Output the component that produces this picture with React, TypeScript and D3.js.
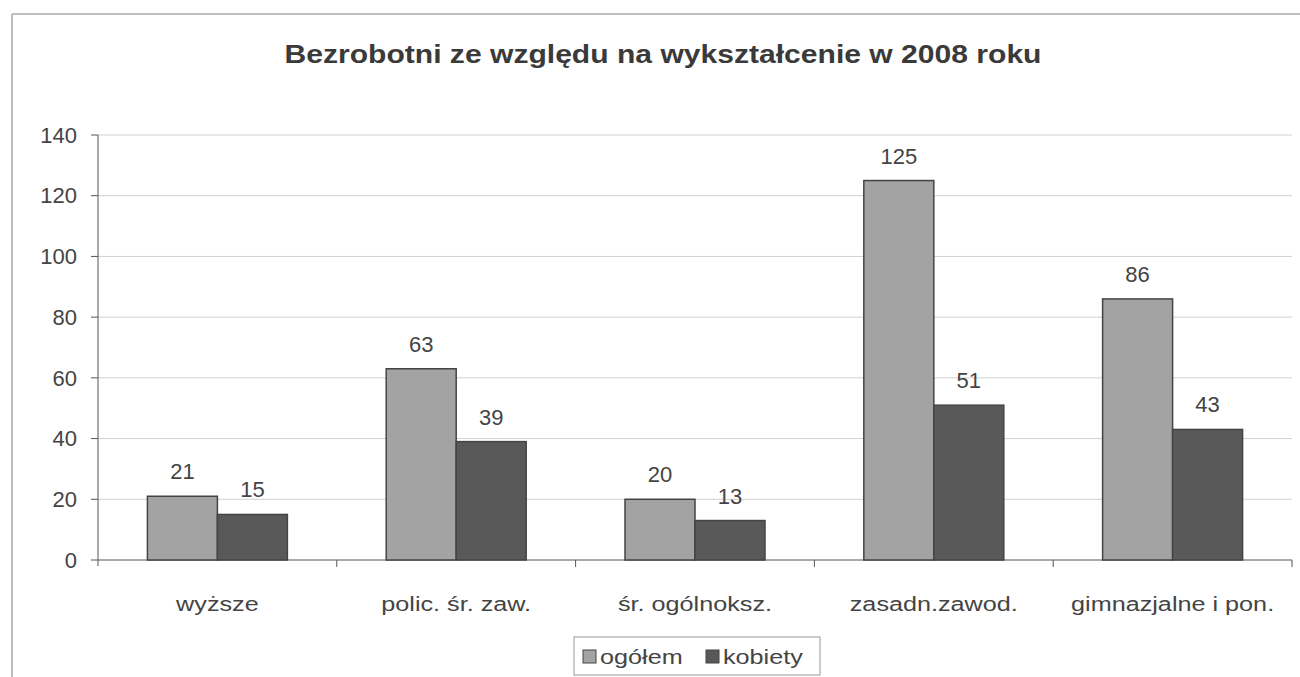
import React from 'react';
import * as d3 from 'd3';

const categories = ['wyższe', 'polic. śr. zaw.', 'śr. ogólnoksz.', 'zasadn.zawod.', 'gimnazjalne i pon.'];
const seriesNames = ['ogółem', 'kobiety'];
const ogolem = [21, 63, 20, 125, 86];
const kobiety = [15, 39, 13, 51, 43];
const yTicks = [0, 20, 40, 60, 80, 100, 120, 140];
const colors = ['#a3a3a3', '#595959'];

const W = 1300;
const H = 677;
const left = 98;
const right = 1292;
const top = 135;
const bottom = 560;
const font = 'Liberation Sans, Arial, sans-serif';
// the scanned labels are a bit wider than the font
const stretch = 1.2;

export default function App() {
    const x = d3.scaleBand<string>().domain(categories).range([left, right]).paddingInner(0).paddingOuter(0);
    const x1 = d3.scaleBand<string>().domain(seriesNames).range([0, x.bandwidth()]).paddingInner(0).paddingOuter(0.706);
    const y = d3.scaleLinear().domain([0, 140]).range([bottom, top]);
    const series = [ogolem, kobiety];

    return (
        <svg width={W} height={H} style={{ position: 'absolute', left: 0, top: 0, background: '#fff' }}>
            {/* frame */}
            <line x1={12} y1={14} x2={1300} y2={14} stroke="#bdbdbd" strokeWidth={2} />
            <line x1={12} y1={14} x2={12} y2={H} stroke="#bdbdbd" strokeWidth={2} />

            <text x={663} y={63} textAnchor="middle" fontFamily={font} fontSize={26} fontWeight="bold" fill="#3a3a3a"
                textLength={757} lengthAdjust="spacingAndGlyphs">
                Bezrobotni ze względu na wykształcenie w 2008 roku
            </text>

            {/* grid */}
            {yTicks.filter((t) => t > 0).map((t) => (
                <line key={t} x1={left} x2={right} y1={y(t)} y2={y(t)} stroke="#d0d0d0" strokeWidth={1} />
            ))}
            {yTicks.map((t) => (
                <g key={'yt' + t}>
                    <line x1={left - 7} x2={left} y1={y(t)} y2={y(t)} stroke="#555" />
                    <text x={left - 21} y={y(t)} dy="0.35em" textAnchor="end" fontFamily={font} fontSize={22} fill="#444">
                        {t}
                    </text>
                </g>
            ))}
            <line x1={left} x2={left} y1={top} y2={bottom + 6} stroke="#555" />
            <line x1={left} x2={right} y1={bottom} y2={bottom} stroke="#555" />
            {categories.map((c) => (
                <line key={'xt' + c} x1={(x(c) ?? 0) + x.bandwidth()} x2={(x(c) ?? 0) + x.bandwidth()} y1={bottom} y2={bottom + 7} stroke="#555" />
            ))}

            {/* bars */}
            {categories.map((c, i) => (
                <g key={c} transform={`translate(${x(c)},0)`}>
                    {seriesNames.map((s, j) => {
                        const v = series[j][i];
                        const bx = x1(s) ?? 0;
                        return (
                            <g key={s}>
                                <rect x={bx} y={y(v)} width={x1.bandwidth()} height={bottom - y(v)} fill={colors[j]} stroke="#444" strokeWidth={1.5} />
                                <text x={bx + x1.bandwidth() / 2} y={y(v) - 17} textAnchor="middle" fontFamily={font} fontSize={22} fill="#444">
                                    {v}
                                </text>
                            </g>
                        );
                    })}
                    <text transform={`translate(${x.bandwidth() / 2},611) scale(${stretch},1)`} textAnchor="middle" fontFamily={font} fontSize={21} fill="#444">
                        {c}
                    </text>
                </g>
            ))}

            {/* legend */}
            <rect x={574} y={637} width={246} height={38} fill="#fff" stroke="#999" />
            {seriesNames.map((s, j) => {
                const lx = j === 0 ? 583 : 706;
                return (
                    <g key={'lg' + s}>
                        <rect x={lx} y={650} width={13} height={13} fill={colors[j]} stroke="#444" />
                        <text transform={`translate(${lx + 17},664) scale(${stretch},1)`} fontFamily={font} fontSize={21} fill="#444">
                            {s}
                        </text>
                    </g>
                );
            })}
        </svg>
    );
}
